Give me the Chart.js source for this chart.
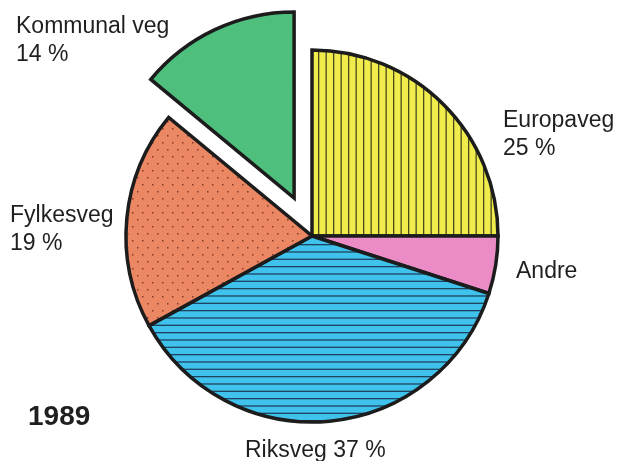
<!DOCTYPE html>
<html>
<head>
<meta charset="utf-8">
<script src="https://cdn.jsdelivr.net/npm/chart.js@4.4.1/dist/chart.umd.min.js"></script>
<style>
  html, body { margin: 0; background: #fff; }
</style>
</head>
<body>
<canvas id="kake" width="618" height="461"></canvas>
<script>
// data (andel av vegnettet, 1989)
const categories = ["Europaveg", "Andre", "Riksveg", "Fylkesveg", "Kommunal veg"];
const shares = [25, 5, 37, 19, 14];
const showShare = [true, false, true, true, true];
const year = "1989";

const FONT = '"Liberation Sans", Arial, Helvetica, sans-serif';
const INK = "#1f1f1f";

function pattern(w, h, bg, paint) {
    let c = document.createElement("canvas");
    c.width = w; c.height = h;
    let g = c.getContext("2d");
    g.fillStyle = bg;
    g.fillRect(0, 0, w, h);
    paint(g);
    return g.createPattern(c, "repeat");
}

let yellow = pattern(15, 15, "#f0ec4c", g => {
    g.fillStyle = "rgba(45,45,20,0.85)";
    g.fillRect(3, 0, 1.3, 15);
    g.fillRect(10.5, 0, 1.3, 15);
});
let cyan = pattern(22, 22, "#3fc2ec", g => {
    g.fillStyle = "rgba(25,45,70,0.85)";
    g.fillRect(0, 2, 22, 1.3);
    g.fillRect(0, 9.33, 22, 1.3);
    g.fillRect(0, 16.67, 22, 1.3);
});
let salmon = pattern(20, 14, "#ec8763", g => {
    g.fillStyle = "rgba(95,35,25,0.75)";
    g.fillRect(2, 2, 1.5, 1.5);
    g.fillRect(12, 2, 1.5, 1.5);
    g.fillRect(7, 9, 1.5, 1.5);
    g.fillRect(17, 9, 1.5, 1.5);
});
let fills = [yellow, "#ec8cc6", cyan, salmon, "#4fbf7d"];

// kommunal veg is pulled out of the pie
const explodeIndex = 4;
const explodeDist = 42;
function shiftArc(chart, sign) {
    let arc = chart.getDatasetMeta(0).data[explodeIndex];
    let mid = (arc.startAngle + arc.endAngle) / 2;
    arc.x += sign * Math.cos(mid) * explodeDist;
    arc.y += sign * Math.sin(mid) * explodeDist;
}
const explode = {
    id: "explode",
    beforeDatasetDraw(chart) { shiftArc(chart, 1); },
    afterDatasetDraw(chart) { shiftArc(chart, -1); }
};

// label text positions (left x, first baseline)
const labelPos = [
    [503, 127], [516, 278], [245, 457], [10, 222], [16, 33]
];
const labelsPlugin = {
    id: "labels",
    afterDraw(chart) {
        let ctx = chart.ctx;
        ctx.save();
        ctx.fillStyle = INK;
        ctx.textBaseline = "alphabetic";
        ctx.font = "23px " + FONT;
        categories.forEach((name, i) => {
            let [x, y] = labelPos[i];
            let pct = shares[i] + " %";
            if (!showShare[i]) {
                ctx.fillText(name, x, y);
            } else if (name === "Riksveg") {
                ctx.fillText(name + " " + pct, x, y);
            } else {
                ctx.fillText(name, x, y);
                ctx.fillText(pct, x, y + 28);
            }
        });
        ctx.font = "bold 28px " + FONT;
        ctx.fillText(year, 28, 425);
        ctx.restore();
    }
};

new Chart(document.getElementById("kake"), {
    type: "pie",
    data: {
        labels: categories,
        datasets: [{
            data: shares,
            backgroundColor: fills,
            borderColor: "#1c1c1c",
            borderWidth: 3.5,
            borderJoinStyle: "miter",
            radius: 186
        }]
    },
    options: {
        responsive: false,
        animation: false,
        events: [],
        layout: { padding: { left: 6, top: 11 } },
        plugins: {
            legend: { display: false },
            tooltip: { enabled: false }
        }
    },
    plugins: [explode, labelsPlugin]
});
</script>
</body>
</html>
